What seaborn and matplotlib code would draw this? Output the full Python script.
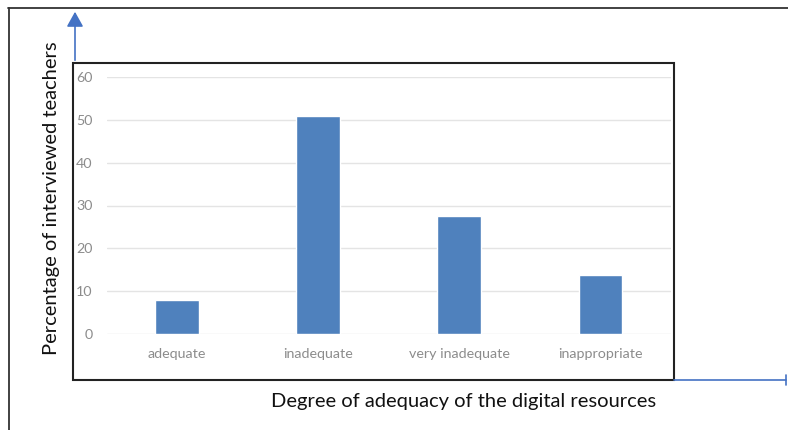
import matplotlib
matplotlib.use("Agg")
import matplotlib.pyplot as plt
import seaborn as sns
from matplotlib.patches import Rectangle, FancyArrowPatch
from matplotlib.lines import Line2D

categories = ["adequate", "inadequate", "very inadequate", "inappropriate"]
percentages = [8.0, 50.8, 27.5, 13.7]
y_ticks = [0, 10, 20, 30, 40, 50, 60]

y_label = "Percentage of interviewed teachers"
x_label = "Degree of adequacy of the digital resources"

sns.set_theme(style="white")
plt.rcParams["font.family"] = ["Lato", "DejaVu Sans"]

W, H = 788, 430
fig = plt.figure(figsize=(W / 100, H / 100), dpi=100)
fig.patch.set_facecolor("white")


def fx(px):
    return px / W


def fy(py):
    return 1 - py / H


# plot area
left, right, top, bottom = 106.5, 671, 77, 334
ax = fig.add_axes([fx(left), fy(bottom), fx(right) - fx(left), fy(top) - fy(bottom)])
sns.barplot(x=categories, y=percentages, color="#4f81bd", width=0.31,
            saturation=1, ax=ax, zorder=3)
ax.set_ylim(0, 60)
ax.set_yticks(y_ticks)
ax.set_xlim(-0.5, len(categories) - 0.5)
ax.yaxis.grid(True, color="#e4e4e4", linewidth=1.0, zorder=0)
ax.xaxis.grid(False)
for s in ax.spines.values():
    s.set_visible(False)
ax.tick_params(axis="both", length=0, labelsize=10.3, colors="#8c8c8c")
ax.tick_params(axis="y", pad=10)
ax.tick_params(axis="x", pad=10)
ax.set_xlabel("")
ax.set_ylabel("")
ax.set_facecolor("none")

# outer frame (top and left edges)
fig.add_artist(Line2D([fx(8), fx(788)], [fy(8), fy(8)], color="#333333", lw=1.3))
fig.add_artist(Line2D([fx(9), fx(9)], [fy(8), fy(430)], color="#333333", lw=1.3))

# chart box
fig.add_artist(Rectangle((fx(73), fy(380)), fx(674) - fx(73), fy(63) - fy(380),
                         fill=False, edgecolor="#222222", lw=1.5))

# blue axis arrows
blue = "#4472c4"
fig.add_artist(FancyArrowPatch((fx(75), fy(63)), (fx(75), fy(9)),
                               transform=fig.transFigure,
                               arrowstyle="-|>,head_length=4.5,head_width=2.5",
                               color=blue, lw=1.2, mutation_scale=2))
fig.add_artist(Line2D([fx(674), fx(786)], [fy(380), fy(380)], color=blue, lw=1.2))
fig.add_artist(Line2D([fx(786), fx(786)], [fy(375), fy(385)], color=blue, lw=1.2))

# axis titles
fig.text(fx(52), fy(198), y_label, rotation=90, ha="center", va="center",
         fontsize=14.5, color="#111111")
fig.text(fx(464), fy(402), x_label, ha="center", va="center",
         fontsize=14.5, color="#111111")

fig.savefig("out.png", dpi=100, facecolor="white")
